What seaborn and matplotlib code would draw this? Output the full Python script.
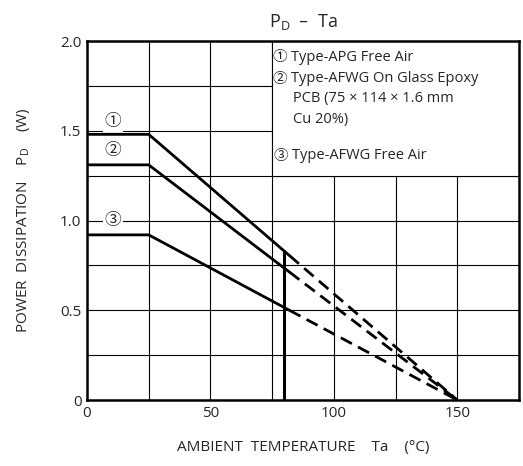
import pandas as pd
import matplotlib.pyplot as plt
import matplotlib.patches as mpatches
import seaborn as sns

# derating curves
temp_solid = [0, 25, 82]
temp_dashed = [82, 150]
curve_apg_air = [1.48, 1.48, 0.805]
curve_afwg_pcb = [1.31, 1.31, 0.713]
curve_afwg_air = [0.92, 0.92, 0.50]
limit_temp = 80
limit_top = 0.83

x_ticks = [0, 50, 100, 150]
y_ticks = [0, 0.5, 1.0, 1.5, 2.0]
y_tick_labels = ['0', '0.5', '1.0', '1.5', '2.0']
legend_marks = ['\u2460', '\u2461', '', '', '\u2462']
legend_lines = ['Type-APG Free Air',
                'Type-AFWG On Glass Epoxy',
                'PCB (75 \u00d7 114 \u00d7 1.6 mm',
                'Cu 20%)',
                'Type-AFWG Free Air']

rows = []
for name, vals in [('1', curve_apg_air), ('2', curve_afwg_pcb), ('3', curve_afwg_air)]:
    for t, p in zip(temp_solid, vals):
        rows.append({'Ta': t, 'PD': p, 'curve': name, 'seg': 'solid'})
    rows.append({'Ta': temp_dashed[0], 'PD': vals[-1], 'curve': name, 'seg': 'dashed'})
    rows.append({'Ta': temp_dashed[1], 'PD': 0.0, 'curve': name, 'seg': 'dashed'})
df = pd.DataFrame(rows)

sns.set_style('white')
plt.rcParams['font.family'] = ['Open Sans', 'DejaVu Sans', 'Noto Sans CJK JP']
circ = ['Noto Sans CJK JP', 'DejaVu Sans']

fig = plt.figure(figsize=(5.23, 4.66), dpi=100)
ax = fig.add_axes([0.1663, 0.1416, 0.826, 0.7704])

sns.lineplot(data=df, x='Ta', y='PD', units='curve', estimator=None,
             style='seg', dashes={'solid': '', 'dashed': (4.5, 2.5)},
             color='black', linewidth=2, legend=False, ax=ax, zorder=4)
ax.plot([limit_temp, limit_temp], [0, limit_top], color='black', lw=2.2, zorder=4)

ax.set_xlim(0, 175)
ax.set_ylim(0, 2.0)
ax.set_xticks(x_ticks)
ax.set_xticklabels([str(v) for v in x_ticks])
ax.set_yticks(y_ticks)
ax.set_yticklabels(y_tick_labels)
for v in range(25, 175, 25):
    ax.axvline(v, color='black', lw=0.8, zorder=1)
for v in [0.25, 0.5, 0.75, 1.0, 1.25, 1.5, 1.75]:
    ax.axhline(v, color='black', lw=0.8, zorder=1)
ax.tick_params(length=0, labelsize=11, pad=4)
for s in ax.spines.values():
    s.set_color('black')
    s.set_linewidth(1.8)
    s.set_zorder(6)

# legend box sits on the grid cells in the upper right
ax.add_patch(mpatches.Rectangle((75, 1.25), 100, 0.75, facecolor='white',
                                edgecolor='black', lw=0.8, zorder=2))
ly = [1.91, 1.79, 1.68, 1.565, 1.36]
lx = [82.6, 82.6, 83.6, 83.6, 83.0]
for mark, txt, xv, yv in zip(legend_marks, legend_lines, lx, ly):
    if mark:
        ax.text(xv - 4.6, yv, mark, family=circ, fontsize=10.5, va='center', ha='center', zorder=3)
    ax.text(xv, yv, txt, fontsize=10.5, va='center', ha='left', zorder=3)

lab = dict(family=circ, fontsize=12, ha='center', va='center', zorder=3,
           bbox=dict(facecolor='white', edgecolor='none', pad=1))
ax.text(10.5, 1.55, '\u2460', **lab)
ax.text(10.5, 1.39, '\u2461', **lab)
ax.text(10.5, 1.0, '\u2462', **lab)

ax.set_xlabel('AMBIENT  TEMPERATURE    Ta    (\u00b0C)', fontsize=11, labelpad=14)
ax.set_ylabel('POWER  DISSIPATION    P$_\\mathregular{D}$    (W)', fontsize=11, labelpad=20)
ax.set_title('P$_\\mathregular{D}$  \u2013  Ta', fontsize=13, pad=10)

fig.savefig('out.png', dpi=100)
